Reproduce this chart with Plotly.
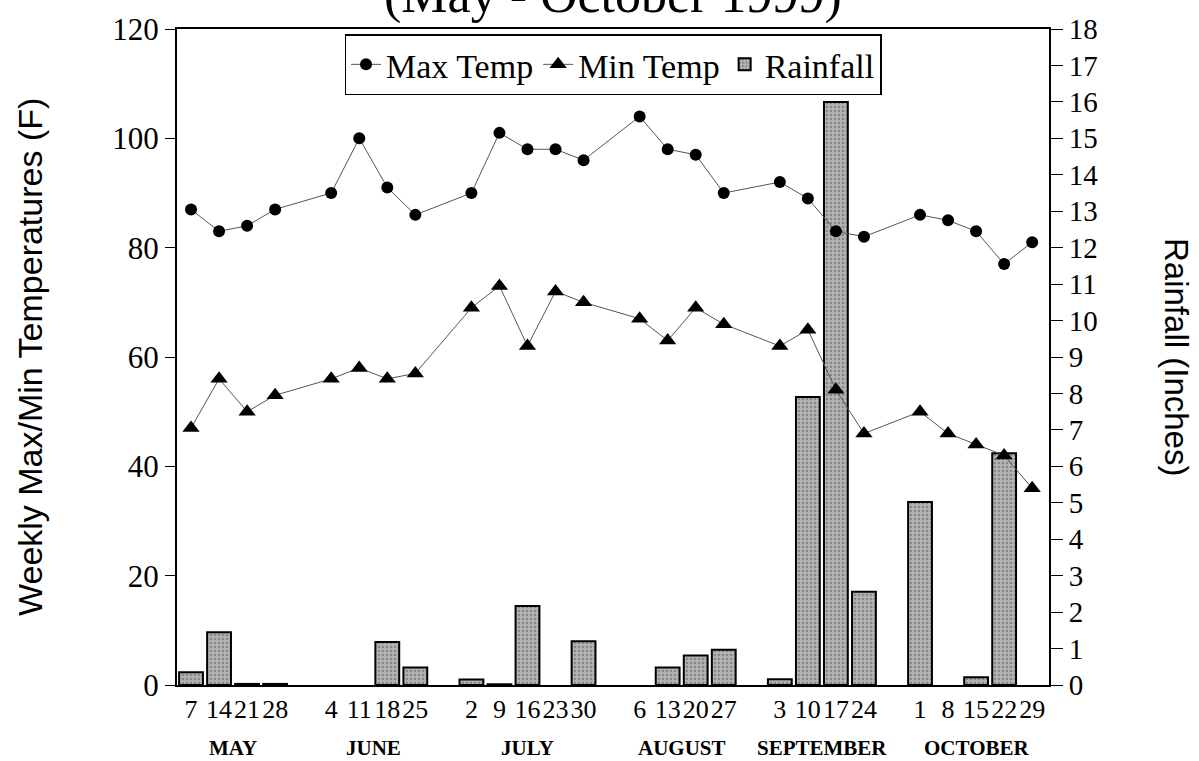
import plotly.graph_objects as go

months = ["MAY", "JUNE", "JULY", "AUGUST", "SEPTEMBER", "OCTOBER"]
week_days = [[7, 14, 21, 28], [4, 11, 18, 25], [2, 9, 16, 23, 30],
             [6, 13, 20, 27], [3, 10, 17, 24], [1, 8, 15, 22, 29]]

max_temp = [87, 83, 84, 87,
            90, 100, 91, 86,
            90, 101, 98, 98, 96,
            104, 98, 97, 90,
            92, 89, 83, 82,
            86, 85, 83, 77, 81]
min_temp = [47, 56, 50, 53,
            56, 58, 56, 57,
            69, 73, 62, 72, 70,
            67, 63, 69, 66,
            62, 65, 54, 46,
            50, 46, 44, 42, 36]
rainfall = [0.35, 1.45, 0.03, 0.03,
            0.0, 0.0, 1.18, 0.48,
            0.15, 0.02, 2.17, 0.0, 1.2,
            0.0, 0.48, 0.81, 0.97,
            0.16, 7.9, 16.0, 2.56,
            5.02, 0.0, 0.21, 6.36, 0.0]

# slot positions: one empty slot between months
xpos, ticktext, month_centers = [], [], []
slot = 0
for m, days in zip(months, week_days):
    start = slot
    for d in days:
        xpos.append(slot)
        ticktext.append(str(d))
        slot += 1
    month_centers.append((start + slot - 1) / 2)
    slot += 1

bar_edges = [2 if r > 0 else 0 for r in rainfall]

serif = "Liberation Serif, Times New Roman, serif"
sans = "Liberation Sans, Arial, sans-serif"

fig = go.Figure()
fig.add_trace(go.Bar(
    x=xpos, y=rainfall, name="Rainfall", yaxis="y", width=0.85,
    marker=dict(color="#a8a8a8", line=dict(color="black", width=bar_edges),
                pattern=dict(shape=".", fgcolor="#5a5a5a", bgcolor="#b4b4b4",
                             size=4, solidity=0.35)),
    legendrank=3,
))
fig.add_trace(go.Scatter(
    x=xpos, y=max_temp, name="Max Temp", yaxis="y2", mode="lines+markers",
    line=dict(color="#555555", width=1),
    marker=dict(symbol="circle", size=12, color="black"),
    legendrank=1,
))
fig.add_trace(go.Scatter(
    x=xpos, y=min_temp, name="Min Temp", yaxis="y2", mode="lines+markers",
    line=dict(color="#555555", width=1),
    marker=dict(symbol="triangle-up", size=15, color="black"),
    legendrank=2,
))

annotations = [
    dict(text="(May - October 1999)", xref="paper", yref="paper", x=0.5, y=1.052,
         xanchor="center", yanchor="middle", showarrow=False,
         font=dict(family=serif, size=52, color="black")),
    dict(text="Weekly Max/Min Temperatures (F)", xref="paper", yref="paper",
         x=(30 - 177) / 872, y=0.5, xanchor="center", yanchor="middle",
         textangle=-90, showarrow=False,
         font=dict(family=sans, size=34, color="black")),
    dict(text="Rainfall (Inches)", xref="paper", yref="paper",
         x=(1177 - 177) / 872, y=0.5, xanchor="center", yanchor="middle",
         textangle=90, showarrow=False,
         font=dict(family=sans, size=33, color="black")),
]
for m, c in zip(months, month_centers):
    annotations.append(dict(text="<b>%s</b>" % m, x=c, xref="x", y=(685 - 749) / 663,
                            yref="paper", xanchor="center", yanchor="middle",
                            showarrow=False,
                            font=dict(family=serif, size=21, color="black")))

fig.update_layout(
    width=1199, height=761,
    margin=dict(l=177, r=150, t=22, b=76),
    paper_bgcolor="white", plot_bgcolor="white",
    showlegend=True,
    legend=dict(orientation="h", x=0.5, xanchor="center", y=0.992, yanchor="top",
                bordercolor="black", borderwidth=1.5, bgcolor="white",
                font=dict(family=serif, size=34, color="black"),
                itemwidth=30, tracegroupgap=0),
    xaxis=dict(range=[-0.5, 30.6], tickmode="array", tickvals=xpos, ticktext=ticktext,
               showline=True, linecolor="black", linewidth=1.5, mirror=True,
               ticks="", showgrid=False, zeroline=False,
               tickfont=dict(family=serif, size=26, color="black")),
    yaxis=dict(range=[0, 18], side="right", tickmode="linear", dtick=1, tick0=0,
               showline=True, linecolor="black", linewidth=2, ticks="outside",
               ticklen=12, tickcolor="black", showgrid=False, zeroline=False,
               tickfont=dict(family=serif, size=29, color="black")),
    yaxis2=dict(range=[0, 120], side="left", overlaying="y", tickmode="linear",
                dtick=20, tick0=0, showline=True, linecolor="black", linewidth=2,
                ticks="outside", ticklen=10, tickcolor="black", showgrid=False,
                zeroline=False, tickfont=dict(family=serif, size=31, color="black")),
    annotations=annotations,
    bargap=0.15,
)

fig.write_html("out.html")
